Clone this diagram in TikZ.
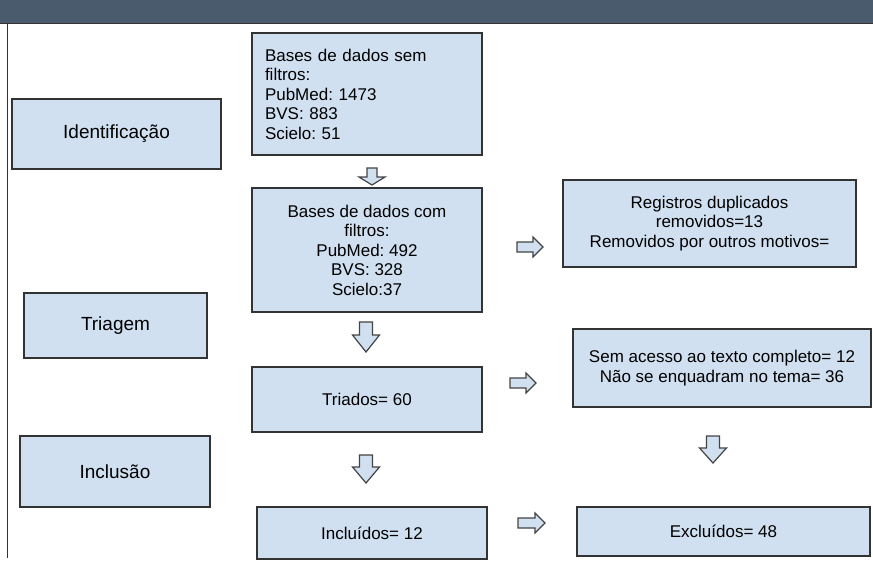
\documentclass[tikz,border=0pt]{standalone}
\usepackage{fontspec}
\setmainfont{Liberation Sans}
\frenchspacing
\definecolor{boxfill}{HTML}{D0E0F1}
\definecolor{boxline}{HTML}{333333}
\definecolor{headbar}{HTML}{4B5B6E}
\definecolor{arrowline}{HTML}{444444}
\newcommand\myarrowdown[6]{% cx, ytop, length, shaft half, head half, head length
  \draw[blockarrow] (#1-#4,#2) -- (#1+#4,#2) -- (#1+#4,#2+#3-#6) -- (#1+#5,#2+#3-#6)
    -- (#1,#2+#3) -- (#1-#5,#2+#3-#6) -- (#1-#4,#2+#3-#6) -- cycle;}
\newcommand\myarrowright[6]{% xleft, cy, length, shaft half, head half, head length
  \draw[blockarrow] (#1,#2-#4) -- (#1+#3-#6,#2-#4) -- (#1+#3-#6,#2-#5) -- (#1+#3,#2)
    -- (#1+#3-#6,#2+#5) -- (#1+#3-#6,#2+#4) -- (#1,#2+#4) -- cycle;}
\begin{document}
\begin{tikzpicture}[x=1pt,y=-1pt,
  flowbox/.style={draw=boxline, fill=boxfill, line width=1.3pt, inner sep=0pt,
    font=\fontsize{17}{19.5}\selectfont, align=center},
  stagebox/.style={flowbox, font=\fontsize{19}{22}\selectfont},
  blockarrow/.style={draw=arrowline, fill=boxfill, line width=1.2pt, line join=miter}]
\useasboundingbox (0,0) rectangle (873,562);
\fill[white] (0,0) rectangle (873,562);
% header bar
\fill[headbar] (0,0) rectangle (873,23);
\draw[boxline, line width=1.5pt] (0,23.5) -- (873,23.5);
\draw[boxline, line width=1.2pt] (7.5,23.5) -- (7.5,558);
% stage labels
\node[stagebox, minimum width=209pt, minimum height=70pt] (ident) at (116.5,134) {Identificação};
\node[stagebox, minimum width=183pt, minimum height=65pt] (triag) at (115.5,325.5) {Triagem};
\node[stagebox, minimum width=190pt, minimum height=71pt] (inclu) at (115,471.5) {Inclusão};
% main column
\node[flowbox, minimum width=230pt, minimum height=122pt, text width=204pt, align=left] (b1) at (367,94)
  {Bases de dados sem\\filtros:\\PubMed: 1473\\BVS: 883\\Scielo: 51};
\node[flowbox, minimum width=230pt, minimum height=124pt] (b2) at (367,250)
  {Bases de dados com\\filtros:\\PubMed: 492\\BVS: 328\\Scielo:37};
\node[flowbox, minimum width=230pt, minimum height=65pt] (triados) at (367,399.5) {Triados= 60};
\node[flowbox, minimum width=230pt, minimum height=52pt] (incl) at (372,533) {Incluídos= 12};
% right column
\node[flowbox, minimum width=293pt, minimum height=87pt] (reg) at (709.5,223.5)
  {Registros duplicados\\removidos=13\\Removidos por outros motivos=};
\node[flowbox, minimum width=298pt, minimum height=78pt] (sem) at (722,368)
  {\raisebox{-4pt}{\parbox{290pt}{\centering Sem acesso ao texto completo= 12\\Não se enquadram no tema= 36}}};
\node[flowbox, minimum width=293pt, minimum height=49pt] (exc) at (723.5,531.5) {Excluídos= 48};
% block arrows
\myarrowdown{372}{168}{17}{5}{13}{8}
\myarrowdown{366}{322}{30}{6.5}{13.5}{17}
\myarrowdown{366}{455}{28}{6.5}{13.5}{16}
\myarrowdown{713}{436}{27}{6.5}{13.5}{15}
\myarrowright{517}{247}{26}{5}{10}{10}
\myarrowright{510}{383}{26}{5}{10}{10}
\myarrowright{518}{523}{27}{5}{10}{10}
\end{tikzpicture}
\end{document}
